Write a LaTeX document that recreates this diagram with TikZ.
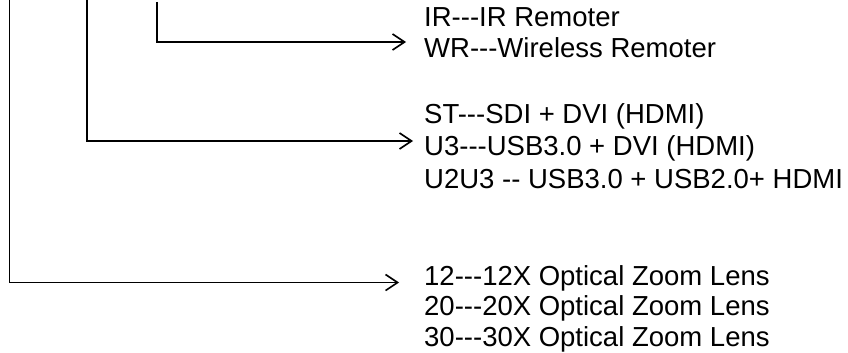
\documentclass[tikz,border=0pt]{standalone}
\usepackage{fontspec}
\newfontfamily\codefont{Liberation Sans}
\usetikzlibrary{arrows.meta}
\tikzset{
  code/.style={anchor=base west, inner sep=0pt, font=\codefont\fontsize{27.5}{32}\selectfont},
  branch/.style={line width=1.6pt, ->}
}
\begin{document}
\begin{tikzpicture}[x=1pt, y=-1pt, >={Straight Barb[length=12pt, width=16pt, line width=1.6pt]}]
  \useasboundingbox (0,0) rectangle (848,353);
  % option texts
  \node[code] (ir)   at (424,26.5) {IR---IR Remoter};
  \node[code] (wr)   at (424,58)   {WR---Wireless Remoter};
  \node[code] (st)   at (424,123)  {ST---SDI + DVI (HDMI)};
  \node[code] (u3)   at (424,155.5){U3---USB3.0 + DVI (HDMI)};
  \node[code] (u2u3) at (424,188)  {U2U3 -- USB3.0 + USB2.0+ HDMI};
  \node[code] (z12)  at (424,285)  {12---12X Optical Zoom Lens};
  \node[code] (z20)  at (424,315)  {20---20X Optical Zoom Lens};
  \node[code] (z30)  at (424,346.5){30---30X Optical Zoom Lens};
  % branch lines
  \coordinate (remTop)  at (157,2);
  \coordinate (remEnd)  at (406,42);
  \coordinate (outTop)  at (87,0);
  \coordinate (outEnd)  at (413,141);
  \coordinate (lensTop) at (9.3,0);
  \coordinate (lensEnd) at (399,282.5);
  \draw[branch] (remTop) |- (remEnd);
  \draw[branch] (outTop) |- (outEnd);
  \draw[branch] (lensTop) |- (lensEnd);
\end{tikzpicture}
\end{document}
